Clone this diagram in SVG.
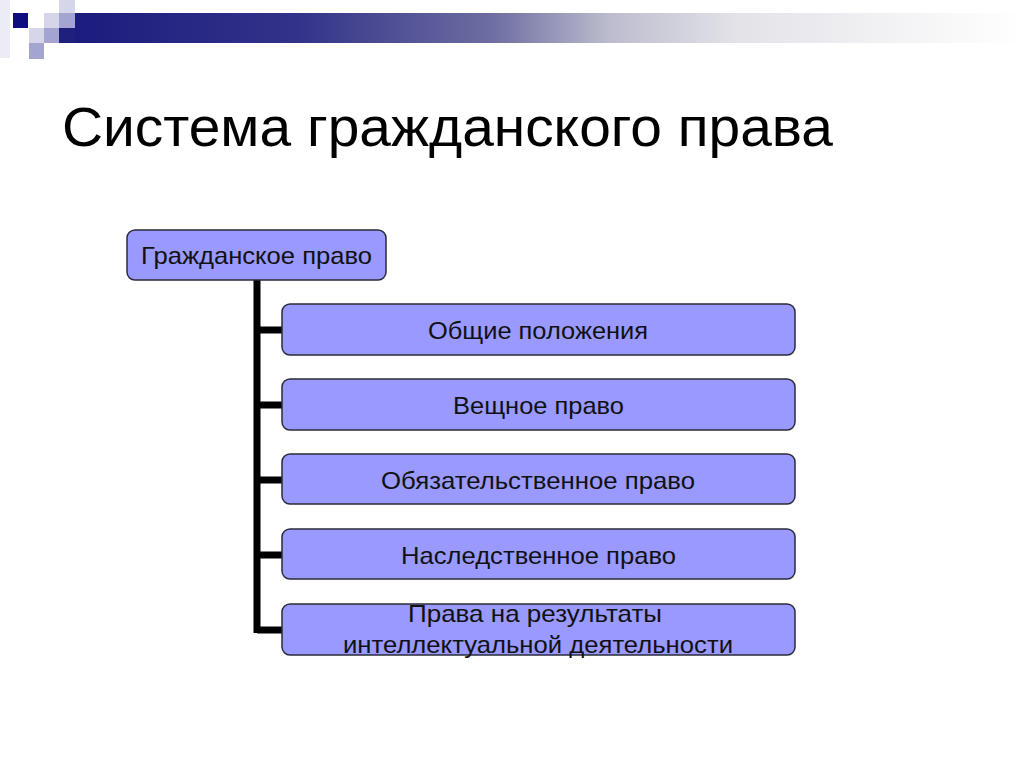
<svg xmlns="http://www.w3.org/2000/svg" width="1024" height="767" viewBox="0 0 1024 767">
<defs>
<linearGradient id="bar" gradientUnits="userSpaceOnUse" x1="59" y1="0" x2="1024" y2="0">
<stop offset="0" stop-color="#1a1a7e"/>
<stop offset="0.25" stop-color="#33338a"/>
<stop offset="0.45" stop-color="#6e6ea2"/>
<stop offset="0.57" stop-color="#bcbcce"/>
<stop offset="0.7" stop-color="#e2e2e8"/>
<stop offset="0.88" stop-color="#f4f4f6"/>
<stop offset="1" stop-color="#ffffff"/>
</linearGradient>
<style>
.box{fill:#9999ff;stroke:#2b2b3a;stroke-width:1.5}
.lbl{font-family:"Liberation Sans",Arial,sans-serif;font-size:24px;fill:#111;text-anchor:middle}
.conn{stroke:#000;stroke-width:7;fill:none}
</style>
</defs>
<rect width="1024" height="767" fill="#ffffff"/>
<g id="header">
<rect x="0" y="0" width="10" height="58" fill="#ececf4"/>
<rect x="75" y="13" width="949" height="30" fill="url(#bar)"/>
<rect x="59" y="28" width="16" height="15" fill="#1f1f7e"/>
<rect x="13" y="13" width="15" height="15" fill="#0e0e80"/>
<rect x="44" y="13" width="15" height="15" fill="#d6d6ea"/>
<rect x="59" y="0" width="16" height="13" fill="#d6d6ea"/>
<rect x="59" y="13" width="16" height="15" fill="#a4a4d0"/>
<rect x="29" y="28" width="15" height="15" fill="#d6d6ea"/>
<rect x="44" y="28" width="15" height="15" fill="#a4a4d0"/>
<rect x="29" y="43" width="15" height="16" fill="#a4a4d0"/>
</g>
<text x="62" y="146" font-family="Liberation Sans, Arial, sans-serif" font-size="56" fill="#000" textLength="771" lengthAdjust="spacingAndGlyphs">Система гражданского права</text>
<g id="connectors">
<path class="conn" d="M257,280 V633"/>
<path class="conn" d="M257,330 H283 M257,405 H283 M257,480 H283 M257,555 H283 M257,630 H283"/>
</g>
<g id="root">
<rect class="box" x="127" y="230" width="259" height="50" rx="8"/>
<text class="lbl" x="256.5" y="264" textLength="231" lengthAdjust="spacingAndGlyphs">Гражданское право</text>
</g>
<g id="n1">
<rect class="box" x="282" y="304" width="513" height="51" rx="8"/>
<text class="lbl" x="538" y="339" textLength="220" lengthAdjust="spacingAndGlyphs">Общие положения</text>
</g>
<g id="n2">
<rect class="box" x="282" y="379" width="513" height="51" rx="8"/>
<text class="lbl" x="538.5" y="414" textLength="171" lengthAdjust="spacingAndGlyphs">Вещное право</text>
</g>
<g id="n3">
<rect class="box" x="282" y="454" width="513" height="50" rx="8"/>
<text class="lbl" x="538" y="489" textLength="314" lengthAdjust="spacingAndGlyphs">Обязательственное право</text>
</g>
<g id="n4">
<rect class="box" x="282" y="529" width="513" height="50" rx="8"/>
<text class="lbl" x="538.5" y="564" textLength="275" lengthAdjust="spacingAndGlyphs">Наследственное право</text>
</g>
<g id="n5">
<rect class="box" x="282" y="604" width="513" height="51" rx="8"/>
<text class="lbl" x="535" y="622" textLength="254" lengthAdjust="spacingAndGlyphs">Права на результаты</text>
<text class="lbl" x="538" y="653" textLength="390" lengthAdjust="spacingAndGlyphs">интеллектуальной деятельности</text>
</g>
</svg>
